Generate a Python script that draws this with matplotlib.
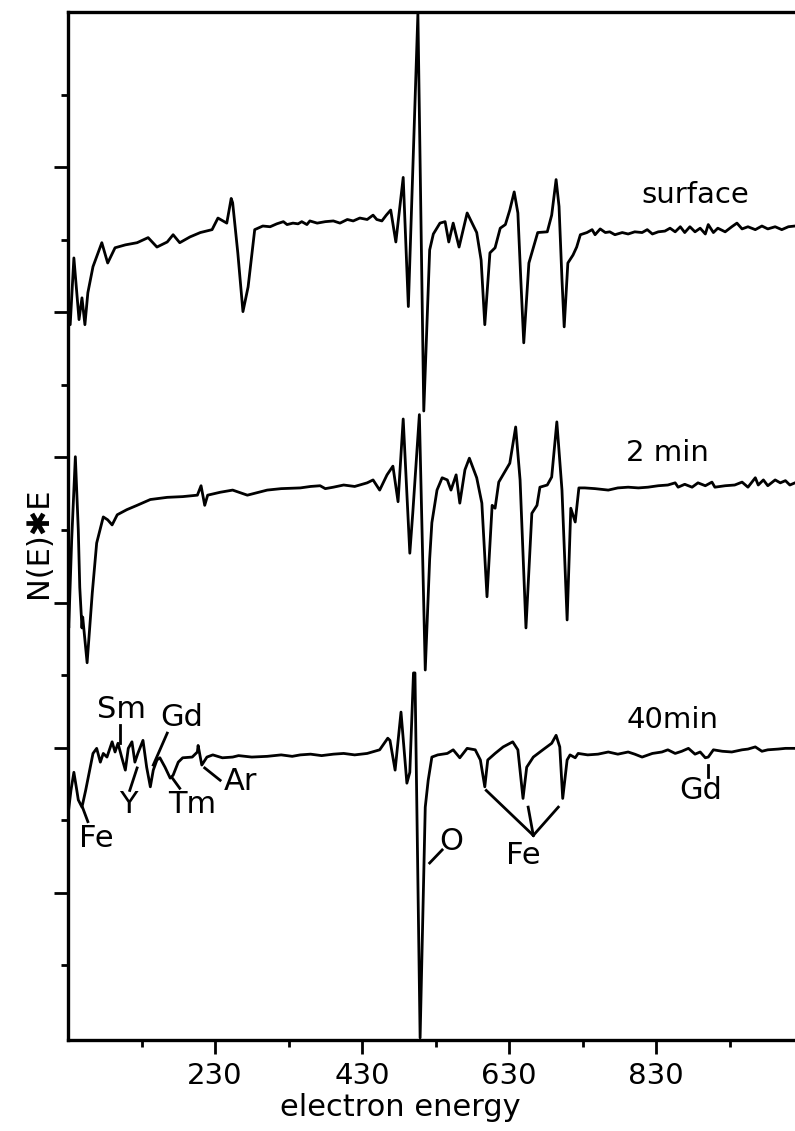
import matplotlib.pyplot as plt

## Auger spectra N(E)*E
## energies in eV, signal in arbitrary units (1 unit = one y tick step)

energy_surface = [30, 33, 38, 45, 49, 53, 57, 64, 76, 84, 94, 108, 124, 139, 151, 165, 173, 182,
                  196, 210, 226, 234, 246, 252, 254, 261, 268, 275, 284, 295, 305, 314, 323, 328,
                  336, 343, 348, 355, 359, 369, 380, 391, 400, 410, 418, 427, 437, 445, 450, 457,
                  463, 469, 476, 486, 493, 506, 514, 522, 527, 536, 543, 548, 554, 562, 573, 586,
                  592, 597, 604, 611, 618, 625, 631, 637, 642, 646, 650, 657, 665, 669, 682, 688,
                  694, 698, 702, 705, 710, 717, 722, 727, 736, 743, 747, 754, 761, 767, 774, 784,
                  792, 801, 811, 818, 825, 833, 842, 849, 856, 863, 869, 876, 883, 890, 897, 901,
                  908, 914, 924, 933, 940, 947, 955, 965, 974, 982, 992, 1001, 1010, 1019]
signal_surface = [9.99, 9.83, 10.75, 9.90, 10.20, 9.83, 10.27, 10.63, 10.96, 10.68, 10.89, 10.93,
                  10.96, 11.03, 10.90, 10.97, 11.07, 10.96, 11.04, 11.10, 11.14, 11.30, 11.23,
                  11.57, 11.51, 10.82, 10.01, 10.35, 11.14, 11.19, 11.18, 11.22, 11.25, 11.21,
                  11.23, 11.22, 11.25, 11.21, 11.26, 11.23, 11.25, 11.26, 11.23, 11.28, 11.26,
                  11.30, 11.28, 11.34, 11.28, 11.26, 11.34, 11.41, 10.97, 11.86, 10.08, 14.12,
                  8.64, 10.86, 11.08, 11.23, 11.25, 10.97, 11.23, 10.90, 11.37, 11.10, 10.72,
                  9.83, 10.82, 10.89, 11.16, 11.21, 11.41, 11.66, 11.37, 10.45, 9.58, 10.68,
                  10.96, 11.10, 11.11, 11.34, 11.83, 11.46, 10.45, 9.80, 10.68, 10.79, 10.90,
                  11.07, 11.10, 11.14, 11.07, 11.15, 11.10, 11.11, 11.07, 11.10, 11.08, 11.11,
                  11.10, 11.14, 11.08, 11.11, 11.12, 11.16, 11.11, 11.18, 11.10, 11.18, 11.11,
                  11.16, 11.08, 11.21, 11.10, 11.16, 11.11, 11.18, 11.23, 11.15, 11.18, 11.14,
                  11.19, 11.15, 11.18, 11.14, 11.18, 11.19]

energy_2min = [30, 31, 35, 40, 44, 46, 49, 50, 56, 63, 69, 78, 84, 90, 97, 110, 124, 142, 165,
               186, 206, 211, 216, 220, 237, 254, 274, 301, 320, 346, 360, 373, 380, 391, 405,
               420, 437, 445, 454, 464, 472, 479, 486, 495, 499, 508, 516, 522, 525, 532, 539,
               546, 551, 558, 563, 570, 576, 586, 593, 600, 607, 611, 616, 631, 639, 645, 653,
               661, 668, 672, 682, 688, 695, 702, 709, 714, 720, 725, 733, 747, 765, 778, 792,
               806, 819, 833, 846, 856, 860, 869, 879, 887, 897, 906, 910, 924, 937, 947, 955,
               965, 969, 976, 982, 992, 999, 1006, 1012, 1019]
signal_2min = [5.96, 5.65, 6.86, 8.01, 7.00, 6.21, 5.65, 5.80, 5.17, 6.13, 6.82, 7.18, 7.14,
               7.07, 7.21, 7.28, 7.34, 7.42, 7.45, 7.46, 7.48, 7.61, 7.34, 7.48, 7.52, 7.55,
               7.48, 7.55, 7.57, 7.58, 7.60, 7.61, 7.57, 7.59, 7.62, 7.60, 7.65, 7.69, 7.55,
               7.76, 7.88, 7.39, 8.53, 6.68, 7.23, 8.59, 5.07, 6.60, 7.10, 7.55, 7.72, 7.69,
               7.55, 7.76, 7.37, 7.83, 7.99, 7.72, 7.37, 6.08, 7.34, 7.30, 7.66, 7.92, 8.42,
               7.69, 5.65, 7.23, 7.34, 7.59, 7.62, 7.73, 8.49, 7.55, 5.76, 7.30, 7.11, 7.58,
               7.58, 7.57, 7.55, 7.58, 7.59, 7.58, 7.59, 7.61, 7.62, 7.65, 7.59, 7.63, 7.59,
               7.65, 7.61, 7.66, 7.59, 7.61, 7.62, 7.66, 7.59, 7.72, 7.62, 7.69, 7.61, 7.69,
               7.65, 7.68, 7.62, 7.65]

energy_40min = [30, 34, 38, 42, 44, 49, 54, 64, 69, 74, 78, 83, 90, 94, 98, 103, 108, 112, 117,
                121, 125, 132, 137, 142, 146, 151, 155, 162, 169, 173, 180, 186, 199, 206, 207,
                212, 219, 227, 240, 254, 262, 280, 301, 320, 335, 346, 360, 375, 391, 405, 420,
                437, 454, 465, 468, 475, 483, 491, 495, 500, 502, 509, 516, 520, 525, 533, 546,
                554, 563, 573, 584, 591, 597, 601, 611, 622, 635, 642, 649, 654, 663, 676, 688,
                694, 699, 703, 709, 713, 720, 724, 737, 751, 765, 778, 792, 801, 811, 825, 838,
                846, 856, 865, 874, 883, 890, 897, 901, 908, 920, 933, 947, 955, 965, 974, 982,
                996, 1006, 1019]
signal_40min = [3.07, 3.41, 3.66, 3.41, 3.28, 3.18, 3.41, 3.92, 3.99, 3.80, 3.92, 3.87, 4.08,
                3.94, 4.06, 3.87, 3.69, 3.99, 4.08, 3.80, 3.92, 4.10, 3.73, 3.46, 3.69, 3.83,
                3.86, 3.73, 3.58, 3.62, 3.80, 3.86, 3.87, 3.94, 4.03, 3.76, 3.87, 3.90, 3.86,
                3.87, 3.89, 3.87, 3.88, 3.90, 3.88, 3.90, 3.91, 3.89, 3.91, 3.92, 3.90, 3.92,
                3.97, 4.13, 4.10, 3.69, 4.49, 3.51, 3.66, 5.03, 5.03, 0.00, 3.18, 3.55, 3.87,
                3.90, 3.92, 3.97, 3.86, 3.99, 3.97, 3.83, 3.46, 3.83, 3.92, 4.01, 4.08, 3.97,
                3.30, 3.73, 3.87, 3.97, 4.06, 4.17, 4.01, 3.30, 3.83, 3.90, 3.86, 3.92, 3.90,
                3.91, 3.94, 3.91, 3.94, 3.91, 3.87, 3.92, 3.94, 3.97, 3.92, 3.95, 3.99, 3.91,
                3.94, 3.86, 3.87, 3.97, 3.95, 3.94, 3.97, 3.98, 4.01, 3.95, 3.97, 3.98, 3.99,
                3.99]

xtick_major = [230, 430, 630, 830]
xtick_minor = [130, 330, 530, 730, 930]

fig = plt.figure(figsize=(7.95, 11.31), dpi=100)
ax = fig.add_axes([68/795, 91/1131, 727/795, 1028/1131])

lw = 2.0
ax.plot(energy_surface, signal_surface, color='black', lw=lw)
ax.plot(energy_2min, signal_2min, color='black', lw=lw)
ax.plot(energy_40min, signal_40min, color='black', lw=lw)

## trace names
ax.text(883, 11.62, 'surface', fontsize=21, ha='center', va='center')
ax.text(846, 8.06, '2 min', fontsize=21, ha='center', va='center')
ax.text(853, 4.38, '40min', fontsize=21, ha='center', va='center')

## element labels on the 40 min spectrum: (text, x, y, leader lines)
labels = [
    ('Fe', 69, 2.75, [((50, 3.17), (57, 2.98))]),
    ('Sm', 103, 4.52, [((101, 4.31), (101, 4.06))]),
    ('Gd', 184, 4.41, [((165, 4.20), (146, 3.76))]),
    ('Y', 112, 3.22, [((114, 3.41), (124, 3.72))]),
    ('Tm', 199, 3.21, [((172, 3.58), (182, 3.44))]),
    ('Ar', 265, 3.54, [((216, 3.72), (237, 3.55))]),
    ('O', 552, 2.70, [((522, 2.41), (539, 2.59))]),
    ('Fe', 650, 2.52, [((663, 2.79), (599, 3.41)), ((663, 2.79), (656, 3.18)),
                       ((663, 2.79), (697, 3.18))]),
    ('Gd', 891, 3.41, [((901, 3.76), (901, 3.59))]),
]
for name, x, y, lines in labels:
    ax.text(x, y, name, fontsize=22, ha='center', va='center')
    for (x0, y0), (x1, y1) in lines:
        ax.plot([x0, x1], [y0, y1], color='black', lw=lw)

ax.set_xlim(30, 1019)
ax.set_ylim(-0.03, 14.14)
ax.set_xticks(xtick_major)
ax.set_xticks(xtick_minor, minor=True)
ax.set_yticks([2, 4, 6, 8, 10, 12])
ax.set_yticks([1, 3, 5, 7, 9, 11, 13], minor=True)
ax.set_yticklabels([])
ax.tick_params(which='major', direction='out', length=10, width=2, labelsize=21, pad=6)
ax.tick_params(which='minor', direction='out', length=5, width=2)
ax.spines['right'].set_visible(False)
for s in ['left', 'top', 'bottom']:
    ax.spines[s].set_linewidth(2.4)

fig.text(0.048, 0.52, 'N(E)\u2731E', rotation=90, ha='center', va='center', fontsize=22)
fig.text(0.503, 0.021, 'electron energy', ha='center', va='center', fontsize=22)

fig.savefig('out.png', dpi=100)
